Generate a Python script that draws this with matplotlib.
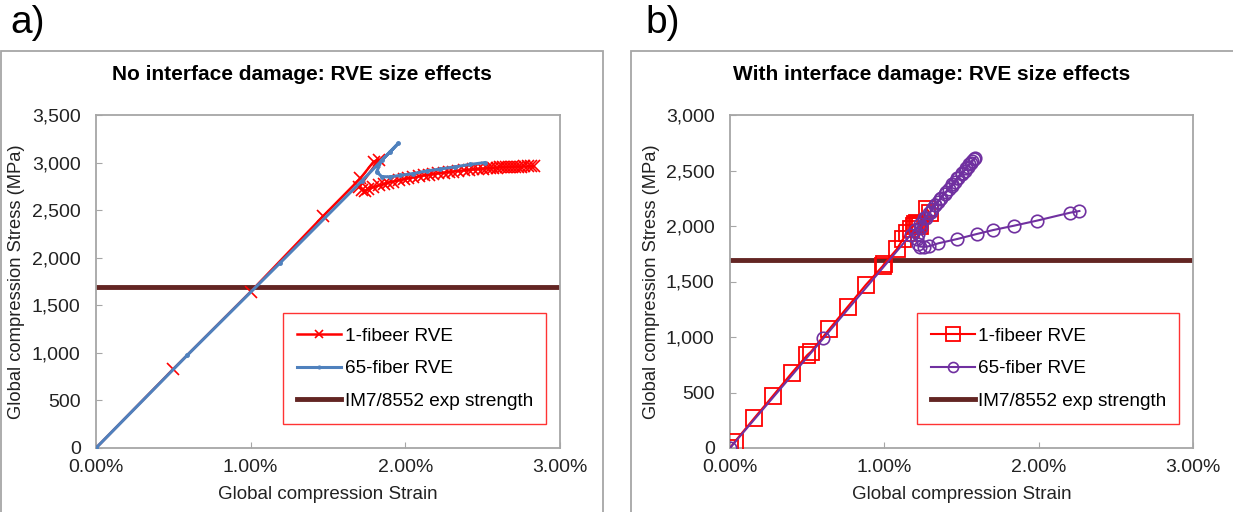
import matplotlib.pyplot as plt
from matplotlib.patches import Rectangle
from matplotlib.ticker import FuncFormatter, MultipleLocator

plt.rcParams['font.family'] = ['Liberation Sans', 'DejaVu Sans']

# panel a: no interface damage
strain_1fib_a = [0.0, 0.50, 1.00, 1.47, 1.71, 1.795, 1.83,
                 1.70, 1.72, 1.74, 1.76, 1.79, 1.83, 1.86, 1.89, 1.92, 1.96, 1.99,
                 2.02, 2.05, 2.09, 2.12, 2.15, 2.18, 2.21, 2.25, 2.28, 2.31, 2.34,
                 2.38, 2.41, 2.44, 2.47, 2.50, 2.53, 2.55, 2.57, 2.59, 2.61, 2.63,
                 2.65, 2.67, 2.69, 2.71, 2.73, 2.75, 2.77, 2.79, 2.81, 2.83]
stress_1fib_a = [0, 830, 1643, 2440, 2835, 3010, 3030,
                 2740, 2715, 2705, 2720, 2740, 2760, 2775, 2790, 2800, 2815, 2825,
                 2835, 2845, 2855, 2865, 2872, 2880, 2887, 2893, 2900, 2906, 2912,
                 2918, 2922, 2928, 2932, 2936, 2940, 2942, 2945, 2948, 2950, 2952,
                 2953, 2955, 2956, 2957, 2958, 2958, 2959, 2959, 2960, 2960]

strain_65fib_a = [0.0, 0.59, 1.19, 1.72, 1.955, 1.90, 1.847, 1.815, 1.847, 1.90,
                  1.966, 2.052, 2.138, 2.224, 2.321, 2.418, 2.515]
stress_65fib_a = [0, 975, 1945, 2810, 3203, 3110, 3027, 2904, 2852, 2850,
                  2865, 2885, 2912, 2932, 2955, 2980, 3000]

# panel b: with interface damage
strain_1fib_b = [0.0, 0.03, 0.156, 0.277, 0.402, 0.501, 0.525, 0.644, 0.763, 0.879,
                 0.99, 1.0, 1.08, 1.12, 1.15, 1.17, 1.19, 1.20, 1.21, 1.22, 1.23,
                 1.275, 1.295]
stress_1fib_b = [0, 55, 267, 468, 679, 838, 868, 1072, 1273, 1468,
                 1640, 1660, 1790, 1880, 1940, 1975, 2000, 2015, 2025, 2020, 2000,
                 2150, 2120]

strain_65fib_b = [0.0, 0.605, 1.17, 1.20, 1.23, 1.26, 1.29, 1.31, 1.33, 1.35, 1.37,
                  1.39, 1.42, 1.44, 1.46, 1.48, 1.50, 1.52, 1.54, 1.56, 1.58, 1.59,
                  1.57, 1.55, 1.53, 1.50, 1.47, 1.44, 1.40, 1.36, 1.33, 1.30, 1.27,
                  1.24, 1.22, 1.21, 1.215, 1.23, 1.26, 1.29, 1.35, 1.473, 1.599,
                  1.707, 1.841, 1.988, 2.204, 2.264]
stress_65fib_b = [0, 988, 1920, 1965, 2020, 2070, 2115, 2150, 2185, 2220, 2255,
                  2290, 2330, 2360, 2395, 2430, 2465, 2500, 2535, 2565, 2600, 2614,
                  2590, 2555, 2520, 2480, 2430, 2380, 2310, 2245, 2190, 2130, 2070,
                  1990, 1930, 1880, 1835, 1815, 1812, 1818, 1844, 1883, 1928,
                  1964, 2003, 2048, 2120, 2135]

exp_strength = 1690
labels = ['1-fibeer RVE', '65-fiber RVE', 'IM7/8552 exp strength']

W, H = 1233, 512
fig = plt.figure(figsize=(W / 100, H / 100), dpi=100)

# chart-area frames
for x0, x1 in [(0.5, 603), (631, 1240)]:
    fig.patches.append(Rectangle((x0 / W, -0.05), (x1 - x0) / W, 1.05 - 51 / H,
                                 transform=fig.transFigure, fill=False,
                                 edgecolor='#a6a6a6', linewidth=1.3))

fig.text(10 / W, 1 - 23 / H, 'a)', fontsize=28, va='center', ha='left')
fig.text(645 / W, 1 - 23 / H, 'b)', fontsize=28, va='center', ha='left')
fig.text(302 / W, 1 - 74 / H, 'No interface damage: RVE size effects',
         fontsize=15, fontweight='bold', ha='center', va='center')
fig.text(932 / W, 1 - 74 / H, 'With interface damage: RVE size effects',
         fontsize=15, fontweight='bold', ha='center', va='center')

ax1 = fig.add_axes([96 / W, 64 / H, 464 / W, 333 / H])
ax2 = fig.add_axes([730 / W, 64 / H, 463 / W, 333 / H])


def style(ax, ymax):
    ax.set_xlim(0, 3)
    ax.set_ylim(0, ymax)
    ax.xaxis.set_major_locator(MultipleLocator(1))
    ax.yaxis.set_major_locator(MultipleLocator(500))
    ax.xaxis.set_major_formatter(FuncFormatter(lambda v, p: '%.2f%%' % v))
    ax.yaxis.set_major_formatter(FuncFormatter(lambda v, p: '{:,.0f}'.format(v)))
    for s in ax.spines.values():
        s.set_color('#a6a6a6')
        s.set_linewidth(1.3)
    ax.tick_params(direction='in', length=4, color='#a6a6a6', labelsize=14,
                   labelcolor='#222222')
    ax.tick_params(axis='y', pad=11)
    ax.tick_params(axis='x', pad=8)
    ax.set_xlabel('Global compression Strain', fontsize=13.5, color='#222222', labelpad=7)
    ax.set_ylabel('Global compression Stress (MPa)', fontsize=13.2, color='#222222')
    ax.yaxis.set_label_coords(-0.152, 0.5)


style(ax1, 3500)
style(ax2, 3000)

ax1.plot(strain_1fib_a, stress_1fib_a, color='#ff0000', lw=1.8, marker='x', ms=8,
         mew=1.2, label=labels[0], zorder=3)
ax1.plot(strain_65fib_a, stress_65fib_a, color='#4f81bd', lw=2.2, marker='o', ms=2.5,
         label=labels[1], zorder=4)
ax1.axhline(exp_strength, color='#632523', lw=3.5, label=labels[2], zorder=2)

ax2.plot(strain_1fib_b, stress_1fib_b, color='#ff0000', lw=1.5, marker='s', ms=12,
         mfc='none', mew=1.3, label=labels[0], zorder=3)
ax2.plot(strain_65fib_b, stress_65fib_b, color='#7030a0', lw=1.5, marker='o', ms=9,
         mfc='none', mew=1.2, label=labels[1], zorder=4)
ax2.axhline(exp_strength, color='#632523', lw=3.5, label=labels[2], zorder=2)

for ax in (ax1, ax2):
    leg = ax.legend(loc='upper left', bbox_to_anchor=(0.403, 0.075, 0.567, 0.33),
                    mode='expand', fontsize=13.7, frameon=True, fancybox=False,
                    handlelength=2.3, handletextpad=0.2, labelspacing=0.8,
                    borderpad=0.75, borderaxespad=0, markerscale=0.8)
    leg.get_frame().set_edgecolor('#ff0000')
    leg.get_frame().set_linewidth(1.0)

fig.savefig('out.png', dpi=100)
